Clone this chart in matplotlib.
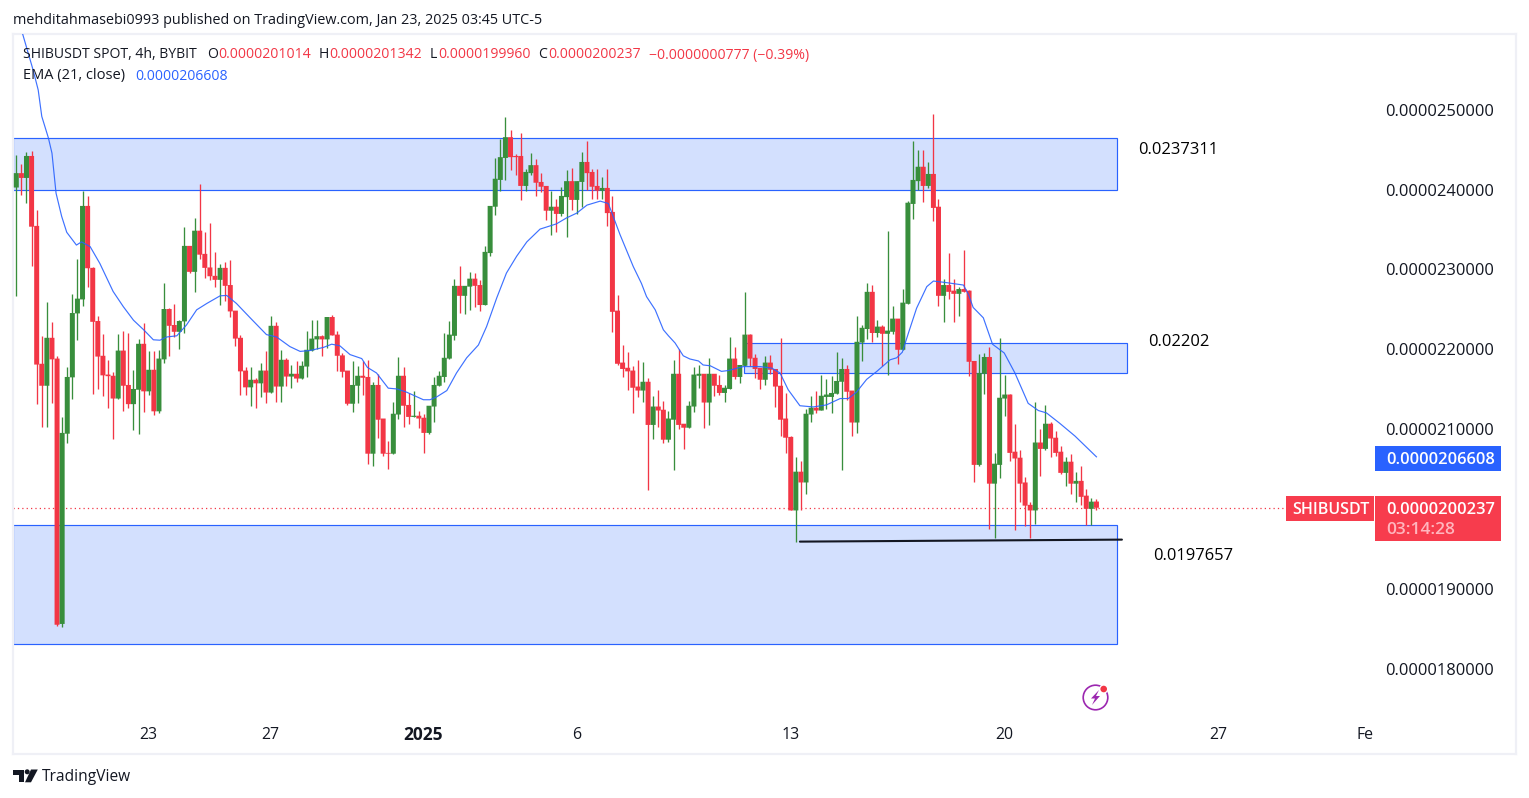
import matplotlib
matplotlib.use("Agg")
import matplotlib.pyplot as plt
from matplotlib.patches import Rectangle, Circle, Polygon
from matplotlib.transforms import Affine2D

W, H = 1529, 798
plt.rcParams['font.family'] = ['Open Sans', 'DejaVu Sans']

# all prices in units of 1e-7 USDT
opens = [
240.3,242.1,241.5,244.25,235.5,218.25,215.5,221.5,218.9,185.7,
209.5,216.55,224.55,226.3,238,230.25,223.6,219.25,216.9,216.75,
213.9,219.9,215.6,213.2,215,220.75,214.8,217.5,212.3,218.8,
225.1,223.1,222.25,223.55,233,229.75,234.9,232,230.3,229.25,
228.75,230.25,228.1,224.9,221.5,217.4,215.3,216.25,215.8,217.4,
214.65,223,215.4,218.75,216.65,217,216.4,217.9,219.9,221.3,
221.7,221.3,224.1,221.9,219.3,217.4,213.25,215.5,216.75,216.6,
207,215.6,211.4,207.1,207,211.9,216.75,213.1,211.6,211.75,
211.5,209.6,212.9,215.5,216.6,218.9,221.75,228,226.75,227.9,
228.9,228.1,225.6,232.1,237.9,241.25,244,246.6,244.25,244.25,
240.5,242.1,243.1,241,240.5,237.4,237.9,237,239.1,241.1,
238.75,241,243.5,242.25,240.5,239.9,240.25,237.25,224.9,218.4,
217.75,217.4,215.4,214.9,216,210.6,212.9,212.5,208.75,211.25,
217,210.75,210.25,212.9,216.75,217,213.4,217,215.6,214.6,
215.1,218.9,216.6,218,221.9,219,217.75,216.25,218.4,217.6,
215.5,211.4,209.1,199.9,204.75,203.4,211.9,212.75,212.4,214.1,
214.1,214.5,216,217.6,214.9,210.9,220.9,222.6,227.25,222.1,
222.9,222,222.25,223.9,220,225.75,238.25,241.1,242.9,240.5,
242,237.9,226.75,228.1,227.4,227,227.6,227.4,218.6,205.6,
217,219.1,203.25,205.6,213.9,214.4,207.25,206.5,203.4,200.6,
199.9,208.4,207.6,210.75,209,207.25,204.6,206,203.25,203.6,
201.75,200.1,201.014]
highs = [
244.4,243.25,244.75,244.9,237.5,221.75,226,223.5,219.25,211.6,
217.85,227,231.3,239.9,239.2,230.3,224.2,222,218.75,217.25,
222,222.4,222.1,217.5,221.3,223.4,219.9,219.9,220,228.3,
225.2,225.75,223.75,235.4,233,236.5,240.75,234.7,235.9,232.2,
230.75,231,231.2,224.9,221.8,217.8,217.8,216.5,218.4,219.9,
224.25,223.5,220,219,218.1,218.6,218.6,222.4,223.75,223.7,
221.9,224.1,224.4,222.4,219.6,217.4,218.6,218,218.6,218.75,
216,217,211.4,208.6,213.5,219.1,217.9,214.6,214.9,212.4,
212,213,216.6,217.4,222.1,223.6,228.9,230.5,228,229.75,
229.6,228.75,233,238,244,246.4,249.1,247.5,244.5,247.1,
242.6,244.6,243.9,242.1,240.5,239.9,238.9,240.4,242.5,242.75,
241.1,244.75,246.1,242.6,242.6,241.6,242.6,239.25,226.9,220.6,
219.75,218,218.75,218.5,216.5,214.25,215,213.6,212.4,218.75,
220.1,210.75,213.6,217.9,218.1,217,219,217,216.9,215.6,
221.6,220.4,218.1,227.25,222,219.5,217.75,219.25,219.4,217.6,
221.5,214.6,209.25,206.6,206.1,212.6,214.25,214.9,216.9,216.4,
216.75,219.75,219,218.1,214.9,224.25,223.1,228.4,228.1,223.75,
223.1,234.9,225.5,223.9,227.6,238.6,246.1,245,245,243.5,
249.5,238.9,228.9,232.1,228.9,227.9,232.5,227.5,218.6,219.5,
219.6,220.4,207.1,221.5,216.9,214.5,210.75,207.5,204.1,200.9,
213.5,210.1,213.1,211,209.9,208,206.6,206.9,204.75,205.5,
202.6,201.4,201.342]
lows = [
226.75,239.4,238.4,230.5,213.25,210.4,210.4,213.4,185.5,185.3,
208.4,213.9,221.2,225.5,227.9,214.5,215.1,214.25,212.7,208.9,
213.9,212.4,212.7,210,209.5,212.2,214.3,211.8,212.05,218.4,
219.25,221.6,220.1,222.15,229.6,227.2,231.3,229,228.75,227.8,
225.6,226.15,224.15,220.5,214.4,214.4,213,212.75,214.1,213.4,
214.65,213.5,213.5,215.5,215.25,216,216.4,216.65,219.9,220.1,
219.25,220.25,221.8,217.4,216.6,213.1,212.25,213.4,214.4,205.75,
205.4,209,206.75,205.1,207,211.4,210.4,210.75,211.6,210.25,
207.1,209.5,211,215.5,216,218.9,221.25,224.6,224.5,225,
225.4,224.9,225.6,231.75,236.9,239.9,241.25,242.5,241.9,238.75,
239.9,241.9,239.25,239.75,236.25,234.4,234.75,236.75,234.1,237.5,
237,237.9,240,238.9,238.9,238.9,235.5,222.25,218.1,216.6,
215,212.1,214.1,213.5,202.5,208.9,210.4,208.4,208.5,204.9,
210.1,207.6,210.25,212.25,215.25,210.25,210.6,214.25,214.4,213.5,
215.1,216.4,215.9,218,218,216.5,215.1,215.6,217,212.9,
209.25,207.1,199.9,196,200,202,211,212.1,212.5,212.6,
212.1,214.5,204.9,213.75,209.25,209.6,218.6,221.4,221,221.6,
218,216.9,222,218.25,220,225.75,236.4,240,238.5,240.25,
236.1,225.5,223.5,226.4,223.5,224.25,227.25,216.75,203.5,205.5,
214.5,197.6,196.5,203.9,211.75,206.1,197.4,201,198,196.4,
198.25,204.25,207.5,206.6,206.75,204.5,203,201.9,200.9,200.6,
198.1,198.1,199.96]
closes = [
242.1,241.5,244.25,235.4,218.15,215.5,221.5,218.8,185.6,209.6,
216.6,224.6,226.4,238,230.2,223.5,219.15,216.8,216.7,213.9,
219.9,215.5,213.2,215.1,220.75,214.8,217.5,212.3,218.9,225.1,
223,222.25,223.6,233,229.75,234.9,231.9,230.25,229.2,228.75,
230.25,228,224.8,221.4,217.3,215.3,216.25,215.8,217.4,214.65,
223,215.4,218.75,216.65,217,216.4,218,220,221.4,221.7,
221.3,224.1,221.8,219.25,217.25,213.25,215.6,216.75,216.5,207,
215.6,211.25,207,207,212,216.75,213,211.6,211.75,211.4,
209.6,213,215.6,216.75,219,221.9,228,226.75,228,228.9,
228,225.6,232.25,238,241.4,244.1,246.6,244.1,244.1,240.5,
242.25,243.1,240.9,240.4,237.4,237.9,237,239.25,241.1,238.75,
241.1,243.5,242.1,240.4,239.9,240.25,237.1,224.75,218.25,217.6,
217.3,215.25,214.9,216,210.6,212.9,212.4,208.75,211.4,217,
210.6,210.25,213,216.9,217,213.4,217,215.5,214.6,215.25,
218.9,216.6,218.1,221.9,218.9,217.6,216.25,218.4,217.5,215.4,
211.25,209,199.9,204.75,203.4,212,212.75,212.4,214.25,214.4,
214.6,216.1,217.6,214.75,210.9,221,222.75,227.25,222.1,222.9,
222,222.4,223.9,220,225.9,238.4,241.25,242.9,240.5,242,
237.75,226.75,228.1,227.25,227,227.6,227.25,218.5,205.6,217.1,
219.1,203.25,205.75,214,214.4,207.1,206.4,203.25,200.5,199.9,
208.4,207.6,210.75,208.9,207.1,204.6,206,203.25,203.6,201.6,
200.1,201,200.237]
# EMA(21)
ema_idx = [1.25,3.3,4.3,5,6.3,7,7.8,8.9,9.9,11.8,12.8,14.5,16.4,19,21,23,25,26.9,28.2,29.5,
           31.5,33.4,35.4,37.4,40,41.3,43.2,45.9,49.1,51.1,53.7,55.7,57.6,60.3,61.9,63.5,65.5,67.8,68.9,70.7,
           73,74.7,76.6,79.9,81.2,82.5,84.5,86.4,88.4,90.7,92.3,94.3,96.2,98.2,100.2,102.8,106,108,110,112,
           114.6,116.2,118.5,121.1,122.7,123.7,125.4,127,128,129.3,130.9,132.2,133.9,134.8,136.2,138.4,139.7,142.7,146,148.3,
           149.9,151.5,153.8,156.4,159,161.7,163.3,164.9,166.9,168.9,171.5,172.8,173.9,175.1,176.7,178.7,180,182.6,185.9,186.9,
           187.8,189.8,191.6,193.9,196,198.6,200.6,202.2,204.8,207.8,212]
ema_val = [259.5,255,252.5,249.2,246.5,244.6,239.6,236.7,234.7,233.1,233.5,232.9,230.8,227.3,225.4,223.7,222.5,221.25,221.2,221.6,
           221.75,223.1,225,225.8,226.75,226.8,225.8,224,221.9,221.6,220.4,219.8,219.9,220.3,220.7,220.5,219.4,218.9,217.8,217.1,
           215.2,215.1,214.7,213.75,213.75,214.1,214.9,217.1,219,220.6,222.9,226.5,229.6,231.7,233.5,235.1,235.75,236.5,237.1,238.1,
           238.6,238.3,234.4,230.4,228.3,226.65,225,222.5,221.75,220.85,219.25,218.85,218.6,218.1,218,217.3,217.4,217.9,217.9,217.7,
           217.1,215,213,212.85,213.1,213.9,213.9,214.7,216.3,217.3,218.75,219,219.7,222.1,225.2,227.9,228.6,228.4,228.1,226.9,
           225.3,224,220.7,219.6,217.1,213.3,212.4,212.1,210.8,209.2,206.608]

# zones: (first candle, last candle, top price, bottom price)
zone_top = (-0.65, 216.0, 246.55, 240.0)
zone_mid = (142.9, 218.0, 220.9, 217.15)
zone_low = (-0.65, 216.0, 198.1, 183.2)
support_idx = [153.8, 217.0]
support_val = [196.0, 196.25]

ytick_vals = [250, 240, 230, 220, 210, 190, 180]
ytick_labels = ['0.0000250000', '0.0000240000', '0.0000230000', '0.0000220000',
                '0.0000210000', '0.0000190000', '0.0000180000']
xtick_idx = [25.85, 49.9, 79.8, 109.9, 151.9, 193.9, 235.9, 264.7]
xtick_labels = ['23', '27', '2025', '6', '13', '20', '27', 'Fe']
notes = [('0.0237311', 1138.5, 150.5), ('0.02202', 1148.5, 342.5), ('0.0197657', 1153.5, 555.5)]

GREEN, RED, BLUE, INK = '#388e3c', '#f23645', '#2962ff', '#131722'
ZONE = '#d3e0fe'
FS = 16.5 * 72 / 100   # 16.5 px
HS = 14 * 72 / 100     # 14 px
MED = 500

fig = plt.figure(figsize=(W / 100, H / 100), dpi=100, facecolor='white')
ax = fig.add_axes([13 / W, 1 - 754 / H, 1503 / W, 720 / H])
PX_STEP, PX_0 = 5.095, 16.3
PPU = 7.9929
ax.set_xlim((13 - PX_0) / PX_STEP, (1516 - PX_0) / PX_STEP)
ax.set_ylim(250 - (754 - 110) / PPU, 250 + (110 - 34) / PPU)
ax.set_xticks([]); ax.set_yticks([])
for s in ax.spines.values():
    s.set_color('#eff0f6'); s.set_linewidth(1.6)

T = Affine2D().scale(1, -1).translate(0, H)
def ftext(x, y, s, **kw):
    kw.setdefault('va', 'center'); kw.setdefault('fontsize', HS); kw.setdefault('color', INK)
    fig.text(x / W, 1 - y / H, s, **kw)

for i0, i1, top, bot in (zone_top, zone_mid, zone_low):
    ax.add_patch(Rectangle((i0, bot), i1 - i0, top - bot, fc=ZONE, ec=BLUE, lw=0.85, zorder=1))

ax.hlines(closes[-1], -0.65, (1286 - PX_0) / PX_STEP, color=RED, lw=0.9, ls=(0, (1, 2.5)), zorder=1.5)

for i in range(len(opens)):
    c = GREEN if closes[i] >= opens[i] else RED
    ax.vlines(i, lows[i], highs[i], color=c, lw=0.95, zorder=2)
    ax.bar(i, abs(closes[i] - opens[i]), bottom=min(opens[i], closes[i]), width=0.98,
           color=c, lw=0, zorder=3, snap=False)

ax.plot(ema_idx, ema_val, color=BLUE, lw=0.85, zorder=4, alpha=0.9)
ax.plot(support_idx, support_val, color=INK, lw=1.5, zorder=5, solid_capstyle='round')

for v, l in zip(ytick_vals, ytick_labels):
    ax.text((1385.5 - PX_0) / PX_STEP, v - 0.2, l, fontsize=FS, color=INK, va='center', ha='left',
            zorder=6, fontweight=MED)
for i, l in zip(xtick_idx, xtick_labels):
    bold = l == '2025'
    ax.text(i, 19 / 720, l, transform=ax.get_xaxis_transform(), fontsize=FS * (1.05 if bold else 0.96),
            color=INK, ha='center', va='center', fontweight='bold' if bold else MED)
for s, x, y in notes:
    ftext(x, y, s, fontsize=FS, color='black', fontweight=MED)

# header lines
ftext(13, 20, 'mehditahmasebi0993 published on TradingView.com, Jan 23, 2025 03:45 UTC-5', fontsize=14.4 * 0.72)
ftext(23, 55, 'SHIBUSDT SPOT, 4h, BYBIT')
for x, lab, val in [(207, 'O', '0.0000201014'), (319, 'H', '0.0000201342'),
                    (430, 'L', '0.0000199960'), (538, 'C', '0.0000200237')]:
    ftext(x, 55, lab)
    ftext(x + {'O': 11, 'H': 10, 'L': 8, 'C': 10}[lab], 55, val, color=RED)
ftext(649, 55, '\u22120.0000000777 (\u22120.39%)', color=RED)
ftext(23, 76, 'EMA (21, close)', fontsize=14.6 * 0.72)
ftext(135, 76, '0.0000206608', color=BLUE)

# price scale labels
def box(x0, y0, x1, y1, c):
    fig.add_artist(Rectangle((x0, y0), x1 - x0, y1 - y0, fc=c, ec='none', transform=T, zorder=7))
box(1375, 446, 1501, 471, BLUE)
box(1286, 496, 1374, 521, '#f73c4d')
box(1375, 496, 1501, 541, '#f73c4d')
ftext(1386.5, 460, '0.0000206608', color='white', fontsize=FS, zorder=8, fontweight=600)
ftext(1292.5, 510, 'SHIBUSDT', color='white', fontsize=FS * 0.97, zorder=8, fontweight=600)
ftext(1386.5, 510, '0.0000200237', color='white', fontsize=FS, zorder=8, fontweight=600)
ftext(1386.5, 530, '03:14:28', color='#ffb6be', fontsize=FS * 1.05, zorder=8, fontweight=600)

# TradingView logo and name
for art in [Rectangle((13, 769.5), 11, 5.5, fc=INK, ec='none', transform=T),
            Rectangle((19, 775), 5, 7.3, fc=INK, ec='none', transform=T),
            Circle((27.2, 771.8), 2.5, fc=INK, ec='none', transform=T),
            Polygon([(31, 769.5), (37.8, 769.5), (31, 782.3), (25, 782.3)], fc=INK, ec='none', transform=T)]:
    fig.add_artist(art)
ftext(42, 777, 'TradingView', fontsize=15.5 * 72 / 100)

# snapshot badge
fig.add_artist(Circle((1095.5, 697.5), 12.3, fc='none', ec='#9c27b0', lw=1.2, transform=T))
fig.add_artist(Polygon([(1099, 690), (1091, 698.5), (1095, 698.5), (1092, 705), (1100, 696), (1096, 696)],
                       fc='#9c27b0', ec='none', transform=T))
fig.add_artist(Circle((1103.7, 689), 4.6, fc='white', ec='none', transform=T))
fig.add_artist(Circle((1103.7, 689), 3.3, fc='#f23645', ec='none', transform=T))

fig.savefig('out.png', dpi=100, facecolor='white')
